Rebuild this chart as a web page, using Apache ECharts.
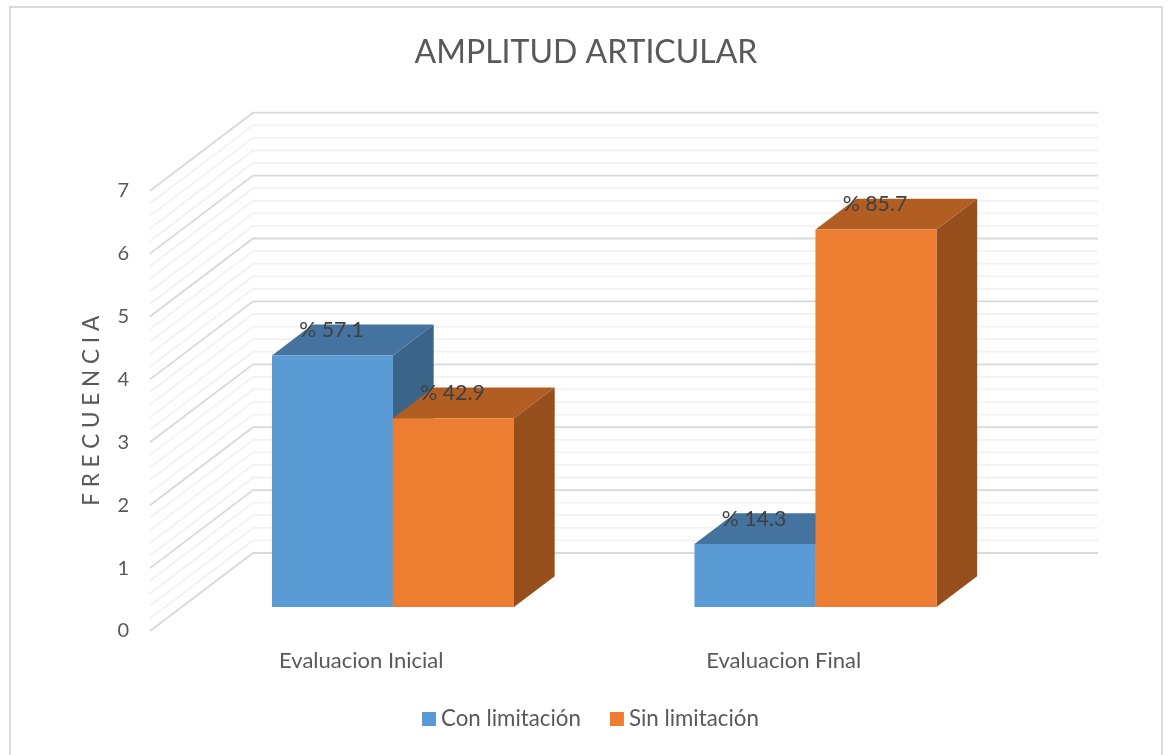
<!DOCTYPE html>
<html>
<head>
<meta charset="utf-8">
<style>html,body{margin:0;padding:0;background:#fff}#chart{width:1170px;height:755px}</style>
<script src="https://cdn.jsdelivr.net/npm/echarts@6/dist/echarts.min.js"></script>
</head>
<body>
<div id="chart"></div>
<script>
// Patient counts per evaluation and their share of the 7 patients
var categories = ['Evaluacion Inicial', 'Evaluacion Final'];
var conLimitacion = [4, 1];
var sinLimitacion = [3, 6];
var conLimitacionPct = [57.1, 14.3];
var sinLimitacionPct = [42.9, 85.7];
var gridMajor = [0, 1, 2, 3, 4, 5, 6, 7];
var gridMinor = [0.2, 0.4, 0.6, 0.8, 1.2, 1.4, 1.6, 1.8, 2.2, 2.4, 2.6, 2.8, 3.2, 3.4, 3.6, 3.8,
  4.2, 4.4, 4.6, 4.8, 5.2, 5.4, 5.6, 5.8, 6.2, 6.4, 6.6, 6.8];

// Oblique projection of the box: full depth offset from the front plane to the back wall
var DEPTH_X = 103, DEPTH_Y = -78;
var BAR_DEPTH_START = 0.308, BAR_DEPTH_END = 0.703;
var BAR_WIDTH_RATIO = 0.2864;
var FONT = 'Lato, "Open Sans", sans-serif';

function shift(p, d) { return [p[0] + DEPTH_X * d, p[1] + DEPTH_Y * d]; }

function face(points, color) {
  return { type: 'polygon', shape: { points: points }, style: { fill: color } };
}

// One gridline: runs up the side wall and then along the back wall
function renderGridLine(color) {
  return function (params, api) {
    var cs = params.coordSys;
    var y = api.coord([0, api.value(0)])[1];
    var front = [cs.x, y];
    var corner = shift(front, 1);
    var end = [cs.x + cs.width + DEPTH_X, corner[1]];
    return {
      type: 'polyline',
      shape: { points: [front, corner, end] },
      style: { stroke: color, lineWidth: 1.8, fill: null }
    };
  };
}

// One 3D bar: offset is -1 for the left bar of a category and 0 for the right one
function renderBar(offset, colors) {
  return function (params, api) {
    var width = api.size([1, 0])[0] * BAR_WIDTH_RATIO;
    var base = api.coord([api.value(0), 0]);
    var top = api.coord([api.value(0), api.value(1)]);
    var x0 = base[0] + offset * width;
    var x1 = x0 + width;
    var fbl = shift([x0, base[1]], BAR_DEPTH_START);
    var fbr = shift([x1, base[1]], BAR_DEPTH_START);
    var ftl = shift([x0, top[1]], BAR_DEPTH_START);
    var ftr = shift([x1, top[1]], BAR_DEPTH_START);
    var bbr = shift([x1, base[1]], BAR_DEPTH_END);
    var btl = shift([x0, top[1]], BAR_DEPTH_END);
    var btr = shift([x1, top[1]], BAR_DEPTH_END);
    return {
      type: 'group',
      children: [
        face([ftr, btr, bbr, fbr], colors.side),
        face([ftl, ftr, btr, btl], colors.top),
        face([ftl, ftr, fbr, fbl], colors.front),
        {
          type: 'text',
          z2: 10,
          style: {
            x: (ftl[0] + ftr[0]) / 2 - 1,
            y: ftl[1] - 25,
            text: '% ' + api.value(2).toFixed(1),
            fill: '#404040',
            font: '21.3px ' + FONT,
            align: 'center',
            verticalAlign: 'middle'
          }
        }
      ]
    };
  };
}

function rows(values, pcts) {
  return values.map(function (v, i) { return [i, v, pcts[i]]; });
}

var chart = echarts.init(document.getElementById('chart'));
chart.setOption({
  animation: false,
  backgroundColor: '#ffffff',
  title: {
    text: 'AMPLITUD ARTICULAR',
    left: 581,
    top: 32,
    textAlign: 'center',
    textStyle: { color: '#595959', fontFamily: FONT, fontSize: 32, fontWeight: 'normal' }
  },
  legend: {
    left: 417,
    top: 703,
    itemWidth: 14,
    itemHeight: 14,
    itemGap: 29,
    icon: 'rect',
    selectedMode: false,
    data: ['Con limitación', 'Sin limitación'],
    textStyle: { color: '#595959', fontFamily: FONT, fontSize: 22.3 }
  },
  grid: { left: 150, top: 190.7, width: 845, height: 440.3 },
  xAxis: {
    type: 'category',
    data: categories,
    axisLine: { show: false },
    axisTick: { show: false },
    axisLabel: { color: '#595959', fontFamily: FONT, fontSize: 22, margin: 19 }
  },
  yAxis: {
    type: 'value',
    min: 0,
    max: 7,
    interval: 1,
    name: 'F R E C U E N C I A',
    nameLocation: 'middle',
    nameGap: 47,
    nameRotate: 90,
    nameTextStyle: { color: '#595959', fontFamily: FONT, fontSize: 22.5 },
    axisLine: { show: false },
    axisTick: { show: false },
    splitLine: { show: false },
    axisLabel: { color: '#595959', fontFamily: FONT, fontSize: 20, margin: 21 }
  },
  graphic: [{
    type: 'rect',
    silent: true,
    shape: { x: 10, y: 7, width: 1152, height: 760 },
    style: { fill: null, stroke: '#d9d9d9', lineWidth: 2 },
    z: -10
  }],
  series: [
    {
      type: 'custom', name: 'gridMinor', coordinateSystem: 'cartesian2d', silent: true, z: 1,
      renderItem: renderGridLine('#f2f2f2'),
      encode: { y: 0 },
      data: gridMinor.map(function (v) { return [v]; })
    },
    {
      type: 'custom', name: 'gridMajor', coordinateSystem: 'cartesian2d', silent: true, z: 2,
      renderItem: renderGridLine('#d9d9d9'),
      encode: { y: 0 },
      data: gridMajor.map(function (v) { return [v]; })
    },
    {
      type: 'custom', name: 'Con limitación', coordinateSystem: 'cartesian2d', z: 3,
      itemStyle: { color: '#5b9bd5' },
      renderItem: renderBar(-1, { front: '#5b9bd5', top: '#44739f', side: '#3a6488' }),
      encode: { x: 0, y: 1 },
      data: rows(conLimitacion, conLimitacionPct)
    },
    {
      type: 'custom', name: 'Sin limitación', coordinateSystem: 'cartesian2d', z: 4,
      itemStyle: { color: '#ed7d31' },
      renderItem: renderBar(0, { front: '#ed7d31', top: '#b25e22', side: '#964f1c' }),
      encode: { x: 0, y: 1 },
      data: rows(sinLimitacion, sinLimitacionPct)
    }
  ]
});
</script>
</body>
</html>
